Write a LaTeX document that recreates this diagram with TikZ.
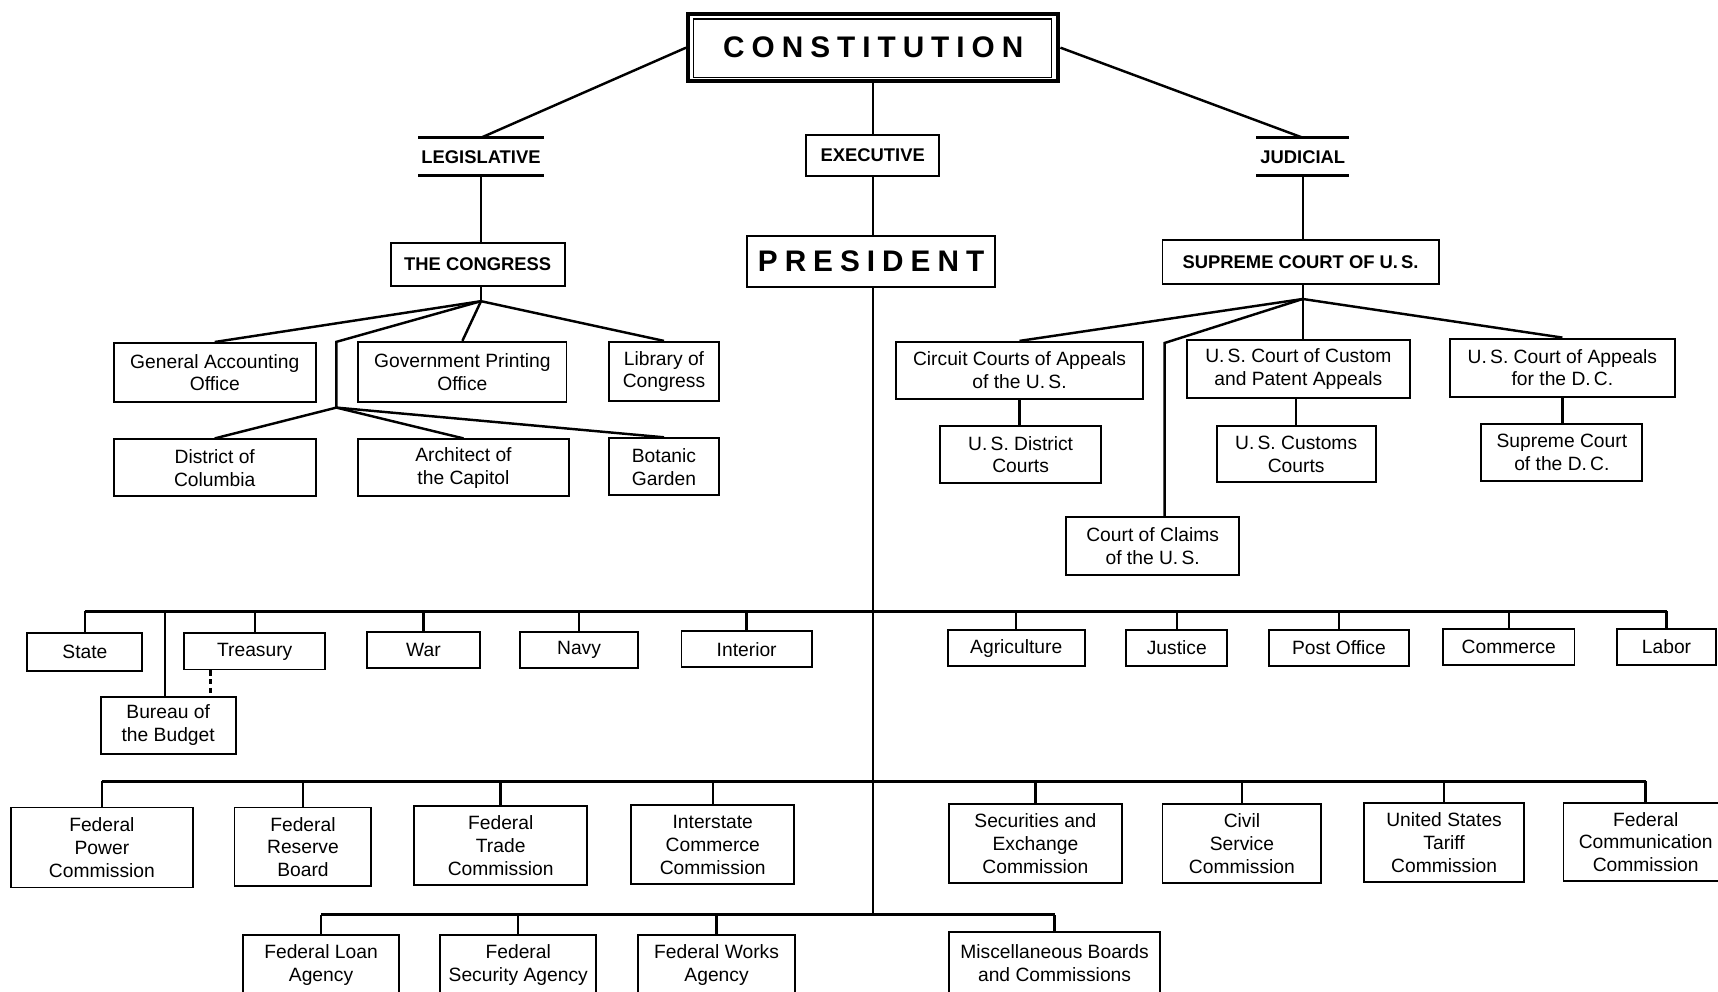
\documentclass[tikz,border=0pt]{standalone}
\usepackage{fontspec}
\setmainfont{Liberation Sans}
\usetikzlibrary{calc}
\newlength{\pxu}
\setlength{\pxu}{0.022cm}
\newcommand{\lsp}{\kern4pt}
\tikzset{
  box/.style={draw,line width=1.1pt,align=center,inner sep=0pt,font=\fontsize{11}{13}\selectfont},
  bx/.style 2 args={box,minimum width=#1\pxu,minimum height=#2\pxu},
  head/.style={inner sep=0pt,font=\fontsize{10.5}{12}\selectfont\bfseries},
  big/.style={font=\fontsize{17}{20}\selectfont\bfseries},
  link/.style={line width=1.4pt},
  bus/.style={line width=1.8pt},
  rule/.style={line width=1.8pt}
}

\begin{document}
\begin{tikzpicture}[x=0.022cm,y=-0.022cm]
\clip (0,0) rectangle (1568,905);
\fill[white] (0,0) rectangle (1568,905);

\node[bx={338}{61},big,line width=2.3pt] (con) at (797,43.5) {C\lsp O\lsp N\lsp S\lsp T\lsp I\lsp T\lsp U\lsp T\lsp I\lsp O\lsp N};
\draw[line width=0.8pt] ([shift={(7,6)}]con.north west) rectangle ([shift={(-8,-5)}]con.south east);

\node[head,minimum width=114\pxu,minimum height=34\pxu] (leg) at (439,143) {LEGISLATIVE};
\node[bx={121}{38},head,draw] (exe) at (796.5,142) {EXECUTIVE};
\node[head,minimum width=84\pxu,minimum height=34\pxu] (jud) at (1189,143) {JUDICIAL};
\draw[rule] (leg.north west) -- (leg.north east) (leg.south west) -- (leg.south east);
\draw[rule] (jud.north west) -- (jud.north east) (jud.south west) -- (jud.south east);

\node[bx={159}{39},head,draw] (cong) at (436,241.5) {THE CONGRESS};
\node[bx={227}{47},big] (pres) at (795,238.5) {P\lsp R\lsp E\lsp S\lsp I\lsp D\lsp E\lsp N\lsp T};
\node[bx={252}{40},head,draw] (sup) at (1187,239) {SUPREME COURT OF U.\,S.};

\node[bx={184}{54}] (gao) at (196,340) {General Accounting\\Office};
\node[bx={190}{55}] (gpo) at (422,339.5) {Government Printing\\Office};
\node[bx={100}{54}] (loc) at (606,339) {Library of\\Congress};
\node[bx={184}{52}] (dc) at (196,427) {District of\\Columbia};
\node[bx={192}{52}] (arch) at (423,427) {Architect of\\the Capitol};
\node[bx={100}{52}] (bot) at (606,426) {Botanic\\Garden};

\node[bx={225}{52}] (cca) at (930.5,338) {Circuit Courts of Appeals\\of the U.\,S.};
\node[bx={204}{53}] (ucc) at (1185,336.5) {U.\,S. Court of Custom\\and Patent Appeals};
\node[bx={206}{53}] (cad) at (1426,335.5) {U.\,S. Court of Appeals\\for the D.\,C.};
\node[bx={147}{52}] (dist) at (931.5,415) {U.\,S. District\\Courts};
\node[bx={145}{51}] (cus) at (1183,414.5) {U.\,S. Customs\\Courts};
\node[bx={147}{52}] (sdc) at (1425.5,413) {Supreme Court\\of the D.\,C.};
\node[bx={158}{53}] (coc) at (1052,498.5) {Court of Claims\\of the U.\,S.};

\node[bx={105}{34}] (state) at (77.5,595) {State};
\node[bx={129}{33}] (treas) at (232.5,594.5) {Treasury};
\node[bx={103}{33}] (war) at (386.5,593.5) {War};
\node[bx={107}{33}] (navy) at (528.5,593.5) {Navy};
\node[bx={119}{33}] (int) at (681.5,592.5) {Interior};
\node[bx={125}{33}] (agr) at (927.5,591.5) {Agriculture};
\node[bx={92}{33}] (jus) at (1074,591.5) {Justice};
\node[bx={128}{33}] (post) at (1222,591.5) {Post Office};
\node[bx={120}{33}] (comm) at (1377,590.5) {Commerce};
\node[bx={90}{33}] (lab) at (1521,590.5) {Labor};
\node[bx={123}{52}] (bud) at (153.5,662) {Bureau of\\the Budget};

\node[bx={166}{73}] (fpc) at (93,773.5) {Federal\\Power\\Commission};
\node[bx={125}{72}] (frb) at (276.5,773) {Federal\\Reserve\\Board};
\node[bx={158}{72}] (ftc) at (457,772) {Federal\\Trade\\Commission};
\node[bx={149}{72}] (icc) at (650.5,771) {Interstate\\Commerce\\Commission};
\node[bx={158}{72}] (sec) at (945,770) {Securities and\\Exchange\\Commission};
\node[bx={145}{72}] (csc) at (1133.5,770) {Civil\\Service\\Commission};
\node[bx={146}{72}] (utc) at (1318,769) {United States\\Tariff\\Commission};
\node[bx={150}{71}] (fcc) at (1502,768.5) {Federal\\Communication\\Commission};

\node[bx={142}{56}] (fla) at (293,881) {Federal Loan\\Agency};
\node[bx={142}{56}] (fsa) at (473,881) {Federal\\Security Agency};
\node[bx={144}{56}] (fwa) at (654,881) {Federal Works\\Agency};
\node[bx={193}{56}] (misc) at (962.5,879) {Miscellaneous Boards\\and Commissions};

\draw[link] (con.west) -- (leg.north);
\draw[link] (con.east) -- (jud.north);
\draw[link] (con.south) -- (con.south |- exe.north);
\draw[link] (con.south |- exe.south) -- (con.south |- pres.north);
\draw[link] (leg.south) -- (leg.south |- cong.north);
\draw[link] (jud.south) -- (jud.south |- sup.north);

\coordinate (cj) at ($(leg.south |- cong.south)+(0,13)$);
\coordinate (lbend) at (307,312);
\coordinate (lj) at (307,372);
\draw[link] (leg.south |- cong.south) -- (cj);
\draw[link] (cj) -- (gao.north);
\draw[link] (cj) -- (gpo.north);
\draw[link] (cj) -- (loc.north);
\draw[link] (cj) -- (lbend) -- (lj);
\foreach \n in {dc,arch,bot}
  \draw[link] (lj) -- (\n.north);

\coordinate (jj) at ($(jud.south |- sup.south)+(0,13)$);
\coordinate (jbend) at (1063,313);
\draw[link] (jud.south |- sup.south) -- (jj);
\draw[link] (jj) -- (cca.north);
\draw[link] (jj) -- (jj |- ucc.north);
\draw[link] (jj) -- (cad.north);
\draw[link] (jj) -- (jbend) -- (jbend |- coc.north);
\draw[link] (cca.south) -- (cca.south |- dist.north);
\draw[link] (cus.north |- ucc.south) -- (cus.north);
\draw[link] (cad.south) -- (cad.south |- sdc.north);

\coordinate (cabbus) at (0,558);
\coordinate (combus) at (0,713);
\coordinate (agbus) at (0,835);
\draw[link] (con.south |- pres.south) -- (con.south |- agbus);
\draw[bus] (state.north |- cabbus) -- (lab.north |- cabbus);
\foreach \n in {state,treas,war,navy,int,agr,jus,post,comm,lab}
  \draw[link] (\n.north) -- (\n.north |- cabbus);
\draw[link] ([xshift=-3\pxu]bud.north) -- ([xshift=-3\pxu]bud.north |- cabbus);
\draw[link,dash pattern=on 3pt off 2pt] ([xshift=25\pxu]treas.south west) coordinate (dtop) -- (dtop |- bud.north);

\draw[bus] (fpc.north |- combus) -- (fcc.north |- combus);
\foreach \n in {fpc,frb,ftc,icc,sec,csc,utc,fcc}
  \draw[link] (\n.north) -- (\n.north |- combus);

\draw[bus] (fla.north |- agbus) -- (misc.north |- agbus);
\foreach \n in {fla,fsa,fwa,misc}
  \draw[link] (\n.north) -- (\n.north |- agbus);

\end{tikzpicture}
\end{document}
